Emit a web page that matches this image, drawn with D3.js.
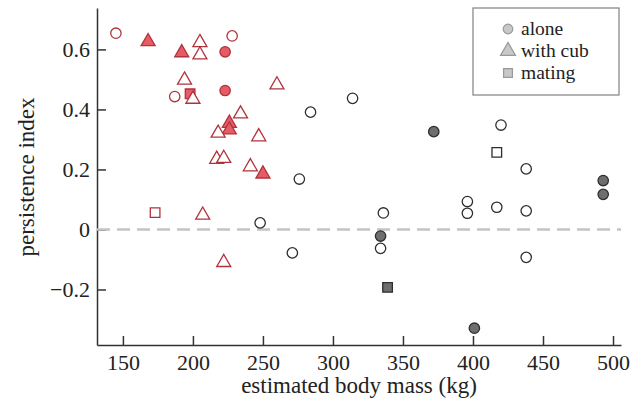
<!DOCTYPE html>
<html>
<head>
<meta charset="utf-8">
<script src="https://cdn.jsdelivr.net/npm/d3@7"></script>
<style>
  html, body { margin: 0; padding: 0; background: #fff; }
  svg text { font-family: "Liberation Serif", "Times New Roman", serif; fill: #222; }
</style>
</head>
<body>
<svg id="chart" width="644" height="409"></svg>
<script>
// body mass (kg) and persistence index, one entry per bear
const mass = [
  145, 168, 205, 228, 192, 205, 223, 194, 187, 198, 200, 223, 260, 234, 226, 226, 218, 247, 217, 222, 241, 250, 173, 207, 222,
  248, 271, 276, 284, 314, 336, 334, 334, 339, 372, 396, 396, 401, 417, 417, 420, 438, 438, 438, 493, 493
];
const persistence = [
  0.654, 0.626, 0.623, 0.645, 0.589, 0.582, 0.592, 0.498, 0.443, 0.452, 0.434, 0.463, 0.482, 0.385, 0.354, 0.332, 0.321, 0.309, 0.234, 0.237, 0.209, 0.185, 0.056, 0.048, -0.110,
  0.022, -0.078, 0.168, 0.391, 0.437, 0.055, -0.022, -0.063, -0.193, 0.326, 0.093, 0.054, -0.329, 0.257, 0.074, 0.348, 0.202, 0.062, -0.093, 0.163, 0.117
];
// a = alone, c = with cub, m = mating
const state = [
  "a", "c", "c", "a", "c", "c", "a", "c", "a", "m", "c", "a", "c", "c", "c", "c", "c", "c", "c", "c", "c", "c", "m", "c", "c",
  "a", "a", "a", "a", "a", "a", "a", "a", "m", "a", "a", "a", "a", "m", "a", "a", "a", "a", "a", "a", "a"
];
// r = red group, k = black/grey group
const group = [
  "r", "r", "r", "r", "r", "r", "r", "r", "r", "r", "r", "r", "r", "r", "r", "r", "r", "r", "r", "r", "r", "r", "r", "r", "r",
  "k", "k", "k", "k", "k", "k", "k", "k", "k", "k", "k", "k", "k", "k", "k", "k", "k", "k", "k", "k", "k"
];
const filled = [
  0, 1, 0, 0, 1, 0, 1, 0, 0, 1, 0, 1, 0, 0, 1, 1, 0, 0, 0, 0, 0, 1, 0, 0, 0,
  0, 0, 0, 0, 0, 0, 1, 0, 1, 1, 0, 0, 1, 0, 0, 0, 0, 0, 0, 1, 1
];

const xTicks = [150, 200, 250, 300, 350, 400, 450, 500];
const yTicks = [-0.2, 0, 0.2, 0.4, 0.6];
const legendLabels = ["alone", "with cub", "mating"];
const legendStates = ["a", "c", "m"];

const svg = d3.select("#chart");
const x = d3.scaleLinear().domain([131.5, 505.7]).range([97, 621]);
const y = d3.scaleLinear().domain([-0.385, 0.738]).range([345, 8]);

// marker shape paths
function shape(s, size) {
  if (s === "a") {
    const r = size * 0.4;
    return `M${r},0A${r},${r} 0 1,1 ${-r},0A${r},${r} 0 1,1 ${r},0Z`;
  }
  if (s === "m") {
    const h = size * 0.37;
    return `M${-h},${-h}H${h}V${h}H${-h}Z`;
  }
  const side = size;
  const ht = side * Math.sqrt(3) / 2;
  return `M0,${-ht * 2 / 3}L${side / 2},${ht / 3}L${-side / 2},${ht / 3}Z`;
}

function fillOf(i) {
  if (!filled[i]) return "#fff";
  return group[i] === "r" ? "#e65c66" : "#6e6e6e";
}
function strokeOf(i) {
  return group[i] === "r" ? "#b2323b" : "#2e2e2e";
}

// axes (ticks point inward)
const xAxis = d3.axisBottom(x).tickValues(xTicks).tickSizeInner(-9).tickSizeOuter(0).tickPadding(9);
const yAxis = d3.axisLeft(y).tickValues(yTicks).tickSizeInner(-9).tickSizeOuter(0).tickPadding(7)
  .tickFormat(d => d === 0 ? "0" : d3.format(".1f")(d).replace("-", "\u2212"));

const gx = svg.append("g").attr("transform", "translate(0,345)").call(xAxis);
const gy = svg.append("g").attr("transform", "translate(97,0)").call(yAxis);
[gx, gy].forEach(g => {
  g.select(".domain").attr("stroke", "#333").attr("stroke-width", 1.5);
  g.selectAll(".tick line").attr("stroke", "#333").attr("stroke-width", 1.5);
  g.selectAll(".tick text").attr("font-size", "22px").attr("font-family", "Liberation Serif, serif").attr("fill", "#222");
});

// zero reference line
svg.append("line")
  .attr("x1", x.range()[0]).attr("x2", x.range()[1])
  .attr("y1", y(0)).attr("y2", y(0))
  .attr("stroke", "#c4c4c4").attr("stroke-width", 2.5)
  .attr("stroke-dasharray", "13,7");

// points
svg.append("g").selectAll("path")
  .data(d3.range(mass.length))
  .join("path")
    .attr("transform", i => `translate(${x(mass[i])},${y(persistence[i])})`)
    .attr("d", i => shape(state[i], state[i] === "c" ? 14 : 13))
    .attr("fill", fillOf)
    .attr("stroke", strokeOf)
    .attr("stroke-width", 1.3);

// axis titles
svg.append("text")
  .attr("x", 359).attr("y", 393)
  .attr("text-anchor", "middle")
  .attr("font-size", "23px")
  .text("estimated body mass (kg)");

svg.append("text")
  .attr("transform", "translate(34,177) rotate(-90)")
  .attr("text-anchor", "middle")
  .attr("font-size", "23px")
  .text("persistence index");

// legend
const lg = svg.append("g");
lg.append("rect")
  .attr("x", 473).attr("y", 8).attr("width", 146).attr("height", 87)
  .attr("fill", "#fff").attr("stroke", "#8a8a8a").attr("stroke-width", 1.3);

legendLabels.forEach((label, i) => {
  const cy = 29 + i * 22;
  lg.append("path")
    .attr("transform", `translate(508,${cy})`)
    .attr("d", shape(legendStates[i], legendStates[i] === "c" ? 15 : 12))
    .attr("fill", "#c8c8c8").attr("stroke", "#999").attr("stroke-width", 1.2);
  lg.append("text")
    .attr("x", 521).attr("y", cy + 6)
    .attr("font-size", "19.5px")
    .text(label);
});
</script>
</body>
</html>
